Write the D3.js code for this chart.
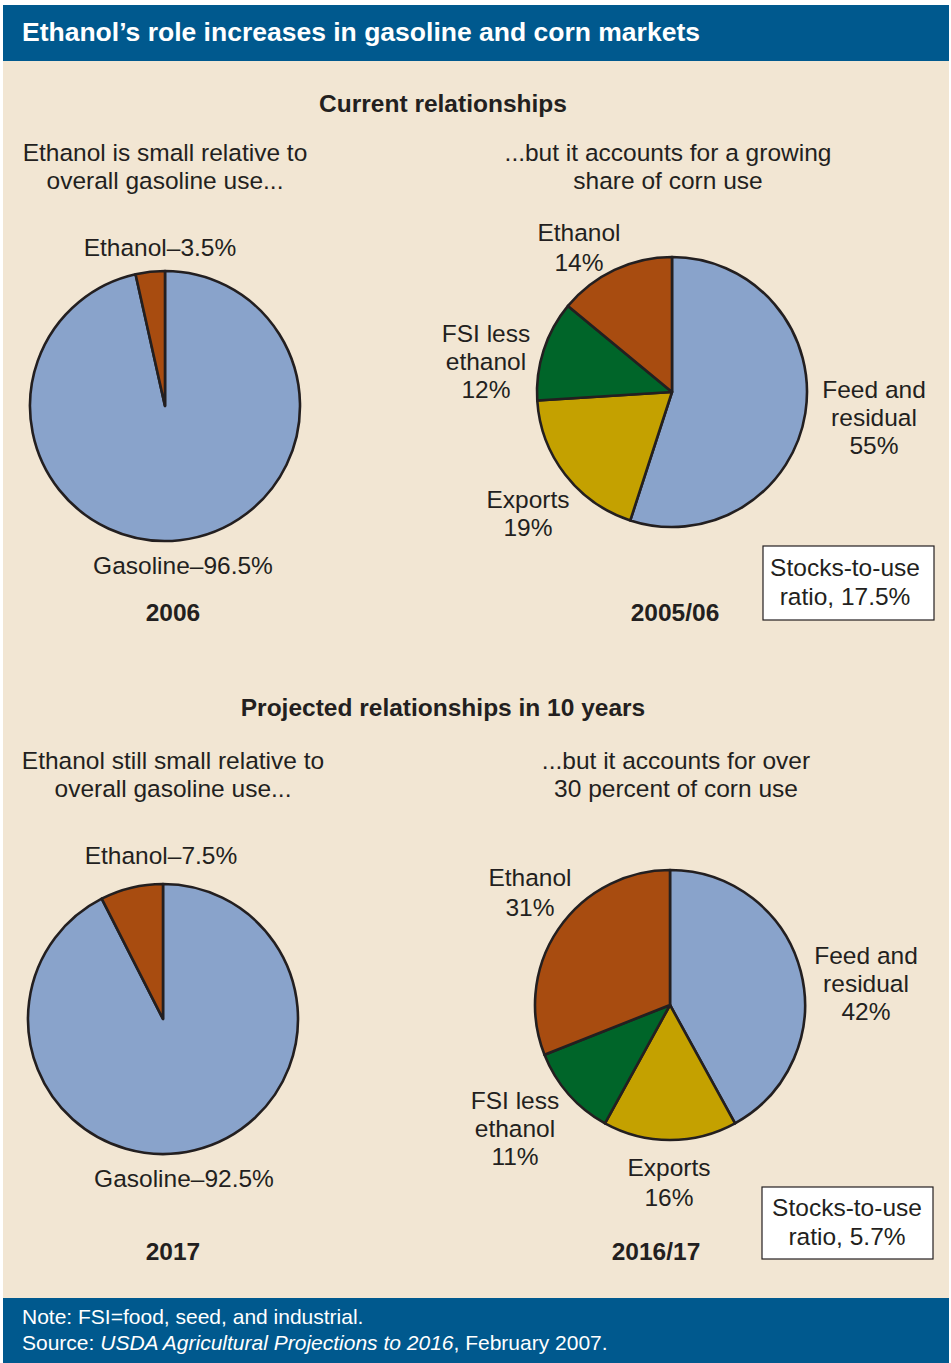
<!DOCTYPE html>
<html>
<head>
<meta charset="utf-8">
<script src="https://cdn.jsdelivr.net/npm/d3@7"></script>
<style>
  body { margin: 0; background: #fff; }
  svg text { font-family: "Liberation Sans", Arial, sans-serif; fill: #231f20; }
</style>
</head>
<body>
<svg id="chart"></svg>
<script>
// Aandelen per taart (volgorde met de klok mee vanaf 12 uur)
const gasolineLabels = ["Gasoline", "Ethanol"];
const gasoline2006 = [96.5, 3.5];
const gasoline2017 = [92.5, 7.5];

const cornLabels = ["Feed and residual", "Exports", "FSI less ethanol", "Ethanol"];
const corn2005 = [55, 19, 12, 14];
const corn2016 = [42, 16, 11, 31];

const stocksToUse = [17.5, 5.7];
const yearLabels = ["2006", "2005/06", "2017", "2016/17"];

const colors = {
  "Gasoline": "#89a3cb",
  "Feed and residual": "#89a3cb",
  "Ethanol": "#a84c10",
  "FSI less ethanol": "#006529",
  "Exports": "#c4a100"
};

const width = 951;
const height = 1363;
const radius = 135;
const svg = d3.select('#chart')
  .attr('width', width)
  .attr('height', height);

// achtergrond, titelbalk en voetbalk
svg.append('rect').attr('x', 3).attr('y', 5).attr('width', 946).attr('height', 1358).attr('fill', '#f2e6d3');
svg.append('rect').attr('x', 3).attr('y', 5).attr('width', 946).attr('height', 56).attr('fill', '#00598e');
svg.append('rect').attr('x', 3).attr('y', 1298).attr('width', 946).attr('height', 65).attr('fill', '#00598e');

svg.append('text')
  .attr('x', 22).attr('y', 41)
  .style('font-size', '26.5px').style('font-weight', 'bold').style('fill', '#fff')
  .text('Ethanol\u2019s role increases in gasoline and corn markets');

const footer = svg.append('g').style('font-size', '21px');
footer.append('text').attr('x', 22).attr('y', 1324).style('fill', '#fff')
  .text('Note: FSI=food, seed, and industrial.');
const src = footer.append('text').attr('x', 22).attr('y', 1350).style('fill', '#fff');
src.append('tspan').text('Source: ');
src.append('tspan').style('font-style', 'italic').text('USDA Agricultural Projections to 2016');
src.append('tspan').text(', February 2007.');

// tekst met meerdere regels, gecentreerd
function label(x, y, lines, opts) {
  opts = opts || {};
  const t = svg.append('text')
    .attr('text-anchor', 'middle')
    .style('font-size', (opts.size || 24.5) + 'px')
    .style('font-weight', opts.bold ? 'bold' : 'normal');
  lines.forEach((line, i) => {
    t.append('tspan').attr('x', x).attr('y', y + i * (opts.lh || 28)).text(line);
  });
  return t;
}

const pie = d3.pie().sort(null).value(d => d.value);
const arc = d3.arc().innerRadius(0).outerRadius(radius);

function drawPie(cx, cy, labels, values) {
  const data = labels.map((l, i) => ({ label: l, value: values[i] }));
  svg.append('g')
    .attr('transform', 'translate(' + cx + ',' + cy + ')')
    .selectAll('path')
    .data(pie(data))
    .enter()
    .append('path')
    .attr('d', arc)
    .attr('fill', d => colors[d.data.label])
    .attr('stroke', '#231f20')
    .attr('stroke-width', 2.6)
    .attr('stroke-linejoin', 'round');
}

function stocksBox(x, y, w, h, value, tx, ty) {
  svg.append('rect').attr('x', x).attr('y', y).attr('width', w).attr('height', h)
    .attr('fill', '#fff').attr('stroke', '#231f20').attr('stroke-width', 1.2);
  label(tx, ty, ['Stocks-to-use', 'ratio, ' + value + '%'], { lh: 29 });
}

// Huidige situatie
label(443, 112, ['Current relationships'], { bold: true });
label(165, 161, ['Ethanol is small relative to', 'overall gasoline use...']);
label(668, 161, ['...but it accounts for a growing', 'share of corn use']);

drawPie(165, 406, gasolineLabels, gasoline2006);
label(160, 256, ['Ethanol\u2013' + gasoline2006[1] + '%']);
label(183, 574, ['Gasoline\u2013' + gasoline2006[0] + '%']);
label(173, 621, [yearLabels[0]], { bold: true });

drawPie(672, 392, cornLabels, corn2005);
label(579, 241, ['Ethanol', corn2005[3] + '%'], { lh: 30 });
label(486, 342, ['FSI less', 'ethanol', corn2005[2] + '%']);
label(874, 398, ['Feed and', 'residual', corn2005[0] + '%']);
label(528, 508, ['Exports', corn2005[1] + '%']);
label(675, 621, [yearLabels[1]], { bold: true });
stocksBox(763, 546, 171, 74, stocksToUse[0], 845, 576);

// Projectie over 10 jaar
label(443, 716, ['Projected relationships in 10 years'], { bold: true });
label(173, 769, ['Ethanol still small relative to', 'overall gasoline use...']);
label(676, 769, ['...but it accounts for over', '30 percent of corn use']);

drawPie(163, 1019, gasolineLabels, gasoline2017);
label(161, 864, ['Ethanol\u2013' + gasoline2017[1] + '%']);
label(184, 1187, ['Gasoline\u2013' + gasoline2017[0] + '%']);
label(173, 1260, [yearLabels[2]], { bold: true });

drawPie(670, 1005, cornLabels, corn2016);
label(530, 886, ['Ethanol', corn2016[3] + '%'], { lh: 30 });
label(866, 964, ['Feed and', 'residual', corn2016[0] + '%']);
label(515, 1109, ['FSI less', 'ethanol', corn2016[2] + '%']);
label(669, 1176, ['Exports', corn2016[1] + '%'], { lh: 30 });
label(656, 1260, [yearLabels[3]], { bold: true });
stocksBox(762, 1187, 171, 72, stocksToUse[1], 847, 1216);
</script>
</body>
</html>
